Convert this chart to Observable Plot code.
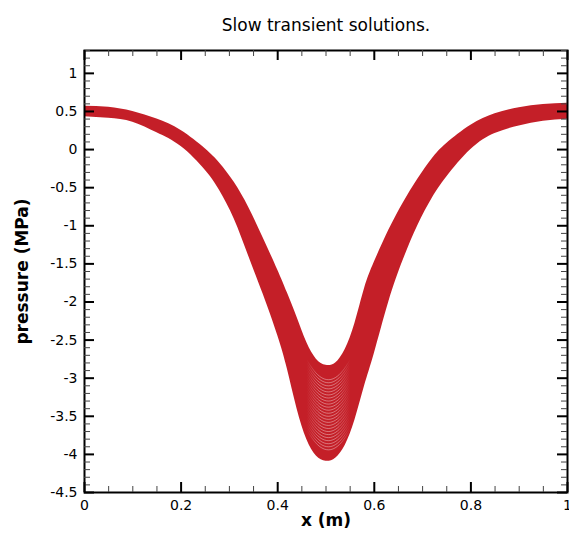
<!DOCTYPE html>
<html><head><meta charset="utf-8">
<script src="https://cdn.jsdelivr.net/npm/d3@7"></script>
<script src="https://cdn.jsdelivr.net/npm/@observablehq/plot@0.6"></script>
<style>body{margin:0;background:#fff;} svg{overflow:visible}</style>
</head><body><div id="chart"></div>
<script>
// x positions (m)
const xs    = [0, 0.05, 0.1, 0.15, 0.2, 0.25, 0.28, 0.31, 0.34, 0.37, 0.4, 0.42, 0.44, 0.46, 0.48, 0.5, 0.52, 0.54, 0.56, 0.58, 0.6, 0.63, 0.66, 0.69, 0.72, 0.75, 0.8, 0.85, 0.9, 0.95, 1];
// upper envelope of the transient solutions (MPa)
const upper = [0.57, 0.555, 0.50, 0.40, 0.25, 0.01, -0.18, -0.43, -0.76, -1.16, -1.58, -1.88, -2.20, -2.53, -2.75, -2.83, -2.80, -2.62, -2.28, -1.82, -1.48, -1.06, -0.70, -0.39, -0.12, 0.08, 0.32, 0.47, 0.55, 0.59, 0.607];
// lower envelope of the transient solutions (MPa)
const lower = [0.43, 0.41, 0.36, 0.22, 0.04, -0.27, -0.54, -0.91, -1.40, -1.90, -2.44, -2.88, -3.40, -3.80, -4.02, -4.09, -4.05, -3.88, -3.55, -3.10, -2.68, -2.00, -1.45, -1.00, -0.64, -0.36, 0.00, 0.21, 0.31, 0.37, 0.397];

// individual late-time curves visible near the minimum (light gaps between them)
const stripeX = [0.46, 0.475, 0.49, 0.505, 0.52, 0.535, 0.55];
const stripe01 = [-2.76, -2.90, -2.99, -3.02, -2.99, -2.90, -2.76];
const stripe02 = [-2.80, -2.94, -3.03, -3.06, -3.03, -2.94, -2.80];
const stripe03 = [-2.84, -2.98, -3.07, -3.10, -3.07, -2.98, -2.84];
const stripe04 = [-2.88, -3.02, -3.11, -3.14, -3.11, -3.02, -2.88];
const stripe05 = [-2.92, -3.06, -3.15, -3.18, -3.15, -3.06, -2.92];
const stripe06 = [-2.96, -3.10, -3.19, -3.22, -3.19, -3.10, -2.96];
const stripe07 = [-3.00, -3.14, -3.23, -3.26, -3.23, -3.14, -3.00];
const stripe08 = [-3.04, -3.18, -3.27, -3.30, -3.27, -3.18, -3.04];
const stripe09 = [-3.08, -3.22, -3.31, -3.34, -3.31, -3.22, -3.08];
const stripe10 = [-3.12, -3.26, -3.35, -3.38, -3.35, -3.26, -3.12];
const stripe11 = [-3.16, -3.30, -3.39, -3.42, -3.39, -3.30, -3.16];
const stripe12 = [-3.20, -3.34, -3.43, -3.46, -3.43, -3.34, -3.20];
const stripe13 = [-3.24, -3.38, -3.47, -3.50, -3.47, -3.38, -3.24];
const stripe14 = [-3.28, -3.42, -3.51, -3.54, -3.51, -3.42, -3.28];
const stripe15 = [-3.32, -3.46, -3.55, -3.58, -3.55, -3.46, -3.32];
const stripe16 = [-3.36, -3.50, -3.59, -3.62, -3.59, -3.50, -3.36];
const stripe17 = [-3.40, -3.54, -3.63, -3.66, -3.63, -3.54, -3.40];
const stripe18 = [-3.44, -3.58, -3.67, -3.70, -3.67, -3.58, -3.44];
const stripe19 = [-3.48, -3.62, -3.71, -3.74, -3.71, -3.62, -3.48];
const stripe20 = [-3.52, -3.66, -3.75, -3.78, -3.75, -3.66, -3.52];
const stripe21 = [-3.56, -3.70, -3.79, -3.82, -3.79, -3.70, -3.56];
const stripe22 = [-3.60, -3.74, -3.83, -3.86, -3.83, -3.74, -3.60];
const stripe23 = [-3.64, -3.78, -3.87, -3.90, -3.87, -3.78, -3.64];
const stripe24 = [-3.68, -3.82, -3.91, -3.94, -3.91, -3.82, -3.68];
const stripes = [stripe01, stripe02, stripe03, stripe04, stripe05, stripe06, stripe07, stripe08, stripe09, stripe10, stripe11, stripe12,
                 stripe13, stripe14, stripe15, stripe16, stripe17, stripe18, stripe19, stripe20, stripe21, stripe22, stripe23, stripe24];

const xMajor = [0, 0.2, 0.4, 0.6, 0.8, 1];
const yMajor = [-4.5, -4, -3.5, -3, -2.5, -2, -1.5, -1, -0.5, 0, 0.5, 1];
const xMinor = d3.range(0, 1.0001, 0.05).filter(v => Math.abs(v * 5 - Math.round(v * 5)) > 1e-6);
const yMinor = d3.range(-4.5, 1.30001, 0.1).filter(v => Math.abs(v * 2 - Math.round(v * 2)) > 1e-6);

const band = xs.map((x, i) => ({x, hi: upper[i], lo: lower[i]}));
const stripeRows = stripes.flatMap((s, k) => s.map((p, i) => ({k, x: stripeX[i], p})));

const W = 569, H = 541, mL = 84, mR = 2, mT = 50, mB = 49;
const iW = W - mL - mR, iH = H - mT - mB;
const red = "#c41f28";
const fmt = d => String(+d.toFixed(2));

const chart = Plot.plot({
  width: W, height: H,
  marginLeft: mL, marginRight: mR, marginTop: mT, marginBottom: mB,
  style: {fontFamily: "'DejaVu Sans', sans-serif", fontSize: "14px", color: "black", background: "white"},
  x: {domain: [0, 1], axis: null},
  y: {domain: [-4.5, 1.3], axis: null},
  marks: [
    Plot.areaY(band, {x: "x", y1: "lo", y2: "hi", fill: red, curve: "natural"}),
    Plot.line(stripeRows, {x: "x", y: "p", z: "k", stroke: "url(#stripeFade)", strokeWidth: 0.7, strokeOpacity: 0.55, curve: "natural"}),
    Plot.frame({stroke: "black", strokeWidth: 2}),
    // minor ticks (inward)
    Plot.tickX(xMinor, {x: d => d, insetTop: iH - 6, stroke: "#444"}),
    Plot.tickX(xMinor, {x: d => d, insetBottom: iH - 6, stroke: "#444"}),
    Plot.tickY(yMinor, {y: d => d, insetRight: iW - 6, stroke: "#444"}),
    Plot.tickY(yMinor, {y: d => d, insetLeft: iW - 6, stroke: "#444"}),
    // major ticks (inward)
    Plot.tickX(xMajor, {x: d => d, insetTop: iH - 10, stroke: "black", strokeWidth: 2}),
    Plot.tickX(xMajor, {x: d => d, insetBottom: iH - 10, stroke: "black", strokeWidth: 2}),
    Plot.tickY(yMajor, {y: d => d, insetRight: iW - 10, stroke: "black", strokeWidth: 2}),
    Plot.tickY(yMajor, {y: d => d, insetLeft: iW - 10, stroke: "black", strokeWidth: 2}),
    // tick labels
    Plot.axisX({ticks: xMajor, anchor: "bottom", tickSize: 0, tickPadding: 8, tickFormat: fmt, label: null, fontSize: 14}),
    Plot.axisY({ticks: yMajor, anchor: "left", tickSize: 0, tickPadding: 7, tickFormat: fmt, label: null, fontSize: 14}),
    // titles
    Plot.text(["Slow transient solutions."], {text: d => d, frameAnchor: "top", dy: -32, fontSize: 17, textAnchor: "middle"}),
    Plot.text(["x (m)"], {text: d => d, frameAnchor: "bottom", dy: 33, fontSize: 17, fontWeight: "bold", textAnchor: "middle"}),
    Plot.text(["pressure (MPa)"], {text: d => d, frameAnchor: "left", dx: -62, rotate: -90, fontSize: 17, fontWeight: "bold", textAnchor: "middle"})
  ]
});

// horizontal fade so the light gaps blend into the solid band at their ends
const ns = "http://www.w3.org/2000/svg";
const sx = chart.scale("x");
const defs = document.createElementNS(ns, "defs");
const grad = document.createElementNS(ns, "linearGradient");
grad.setAttribute("id", "stripeFade");
grad.setAttribute("gradientUnits", "userSpaceOnUse");
grad.setAttribute("x1", sx.apply(0.46)); grad.setAttribute("x2", sx.apply(0.55));
grad.setAttribute("y1", 0); grad.setAttribute("y2", 0);
[[0, 0], [0.3, 1], [0.7, 1], [1, 0]].forEach(([o, a]) => {
  const s = document.createElementNS(ns, "stop");
  s.setAttribute("offset", o);
  s.setAttribute("stop-color", "white");
  s.setAttribute("stop-opacity", a);
  grad.append(s);
});
defs.append(grad);
chart.insertBefore(defs, chart.firstChild);
document.getElementById("chart").append(chart);
</script>
</body></html>
